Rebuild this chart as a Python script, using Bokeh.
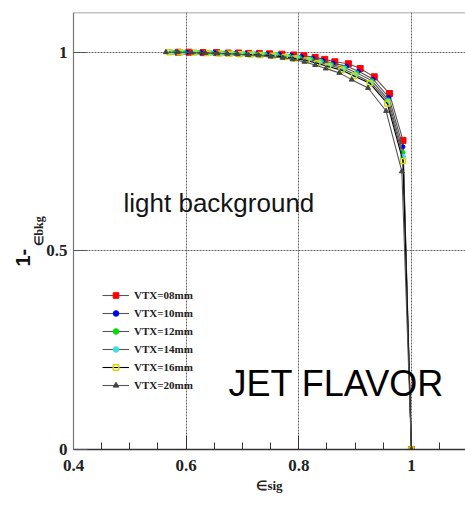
import math
from bokeh.plotting import figure
from bokeh.models import (FixedTicker, CustomJSTickFormatter, Label, Legend, LegendItem, Span, Title)
from bokeh.embed import file_html
from bokeh.resources import INLINE

# ---- data ----
names = ["VTX=08mm", "VTX=10mm", "VTX=12mm", "VTX=14mm", "VTX=16mm", "VTX=20mm"]

x08 = [0.586, 0.605, 0.630, 0.654, 0.675, 0.693, 0.711, 0.730, 0.748, 0.770, 0.791, 0.809, 0.829, 0.846, 0.864, 0.888, 0.909, 0.934, 0.961, 0.985, 1.0]
y08 = [1.000, 1.000, 0.999, 0.999, 0.998, 0.998, 0.997, 0.997, 0.996, 0.995, 0.993, 0.991, 0.987, 0.982, 0.976, 0.971, 0.959, 0.938, 0.896, 0.778, 0.0]
x10 = [0.582, 0.601, 0.626, 0.650, 0.671, 0.689, 0.707, 0.726, 0.744, 0.766, 0.787, 0.805, 0.825, 0.843, 0.861, 0.885, 0.906, 0.932, 0.960, 0.985, 1.0]
y10 = [1.000, 1.000, 0.999, 0.999, 0.998, 0.998, 0.997, 0.996, 0.995, 0.994, 0.992, 0.989, 0.985, 0.979, 0.972, 0.965, 0.952, 0.932, 0.886, 0.762, 0.0]
x12 = [0.578, 0.597, 0.622, 0.646, 0.667, 0.685, 0.703, 0.722, 0.740, 0.762, 0.783, 0.801, 0.822, 0.840, 0.858, 0.882, 0.903, 0.930, 0.959, 0.985, 1.0]
y12 = [1.000, 1.000, 0.999, 0.998, 0.998, 0.997, 0.996, 0.996, 0.995, 0.993, 0.990, 0.987, 0.983, 0.977, 0.969, 0.961, 0.948, 0.928, 0.880, 0.748, 0.0]
x14 = [0.574, 0.593, 0.618, 0.642, 0.663, 0.681, 0.699, 0.718, 0.736, 0.758, 0.779, 0.797, 0.818, 0.837, 0.855, 0.879, 0.900, 0.928, 0.958, 0.985, 1.0]
y14 = [1.000, 1.000, 0.999, 0.998, 0.997, 0.997, 0.996, 0.995, 0.994, 0.992, 0.989, 0.986, 0.981, 0.975, 0.967, 0.958, 0.944, 0.924, 0.876, 0.737, 0.0]
x16 = [0.570, 0.589, 0.614, 0.638, 0.659, 0.677, 0.695, 0.714, 0.732, 0.754, 0.775, 0.793, 0.814, 0.833, 0.852, 0.876, 0.898, 0.926, 0.957, 0.985, 1.0]
y16 = [1.000, 1.000, 0.999, 0.998, 0.997, 0.996, 0.995, 0.994, 0.993, 0.991, 0.988, 0.984, 0.979, 0.972, 0.964, 0.955, 0.940, 0.922, 0.871, 0.726, 0.0]
x20 = [0.564, 0.585, 0.610, 0.634, 0.655, 0.673, 0.691, 0.710, 0.728, 0.750, 0.771, 0.789, 0.810, 0.829, 0.848, 0.872, 0.894, 0.923, 0.955, 0.983, 1.0]
y20 = [1.000, 1.000, 0.999, 0.998, 0.997, 0.996, 0.995, 0.993, 0.992, 0.989, 0.986, 0.982, 0.976, 0.968, 0.959, 0.948, 0.931, 0.910, 0.852, 0.700, 0.0]

x_ticks = [0.4, 0.6, 0.8, 1.0]
y_ticks = [0.0, 0.5, 1.0]

series = [
    (names[0], x08, y08, dict(marker="square", size=6, fill_color="#ff0000", line_color="#ff0000"), "#555555"),
    (names[1], x10, y10, dict(marker="circle", size=4, fill_color="#0000ff", line_color="#0000ff"), "#555555"),
    (names[2], x12, y12, dict(marker="circle", size=4, fill_color="#00e000", line_color="#00e000"), "#555555"),
    (names[3], x14, y14, dict(marker="circle", size=5, fill_color="#40e0e0", line_color="#40e0e0"), "#555555"),
    (names[4], x16, y16, dict(marker="square", size=5, fill_color=None, line_color="#d8d800", line_width=1.5), "#000000"),
    (names[5], x20, y20, dict(marker="triangle", size=5, fill_color="#444444", line_color="#444444"), "#555555"),
]

p = figure(width=465, height=507, output_backend="svg", toolbar_location=None,
           x_range=(0.4, 1.096), y_range=(0.0, 1.1),
           min_border_left=73, min_border_right=0, min_border_top=12, min_border_bottom=58)
p.outline_line_color = None
p.background_fill_color = "white"

items = []
for name, xs, ys, mk, lc in series:
    r1 = p.line(xs, ys, line_color=lc, line_width=1.1)
    r2 = p.scatter(xs, ys, **mk)
    items.append(LegendItem(label=name, renderers=[r1, r2]))

# top border
p.add_layout(Span(location=1.1, dimension="width", line_color="#888888", line_width=1.5))

fmt = CustomJSTickFormatter(code="return Number(tick.toFixed(2)).toString();")

xa = p.xaxis[0]
xa.ticker = FixedTicker(ticks=x_ticks, minor_ticks=[0.45, 0.5, 0.55, 0.65, 0.7, 0.75, 0.85, 0.9, 0.95, 1.05])
xa.formatter = fmt
xa.major_tick_in = 14
xa.major_tick_out = 0
xa.minor_tick_in = 7
xa.minor_tick_out = 0
xa.axis_line_color = "#333333"
xa.axis_line_width = 1.5
xa.major_tick_line_color = "#333333"
xa.minor_tick_line_color = "#333333"
xa.major_label_text_font = "Liberation Serif"
xa.major_label_text_font_style = "bold"
xa.major_label_text_font_size = "17px"
xa.major_label_text_color = "#222222"
xa.major_label_standoff = 10
xa.axis_label = "\u2208sig"
xa.axis_label_text_font = "Liberation Serif"
xa.axis_label_text_font_style = "bold"
xa.axis_label_text_font_size = "13px"
xa.axis_label_text_color = "#222222"
xa.axis_label_standoff = 4

ya = p.yaxis[0]
ya.ticker = FixedTicker(ticks=y_ticks)
ya.formatter = fmt
ya.major_tick_in = 14
ya.major_tick_out = 0
ya.minor_tick_line_color = None
ya.axis_line_color = "#777777"
ya.axis_line_width = 1.2
ya.major_tick_line_color = "#555555"
ya.major_label_text_font = "Liberation Serif"
ya.major_label_text_font_style = "bold"
ya.major_label_text_font_size = "17px"
ya.major_label_text_color = "#222222"
ya.major_label_standoff = 6
ya.axis_label = "\u2208bkg"
ya.axis_label_text_font = "Liberation Serif"
ya.axis_label_text_font_style = "bold"
ya.axis_label_text_font_size = "12px"
ya.axis_label_text_color = "#222222"
ya.axis_label_standoff = -3

p.add_layout(Title(text="1-", text_font="Liberation Sans", text_font_style="bold",
                   text_font_size="20px", text_color="#111111", align="left",
                   offset=183, standoff=0), "left")

p.xgrid.ticker = FixedTicker(ticks=[0.6, 0.8, 1.0])
p.ygrid.ticker = FixedTicker(ticks=[0.5, 1.0])
for g in (p.xgrid[0], p.ygrid[0]):
    g.grid_line_color = "#666666"
    g.grid_line_dash = "2 1"
    g.grid_line_width = 1

# legend
leg = Legend(items=items, location=(29, 57), background_fill_alpha=0, border_line_color=None,
             padding=0, margin=0, spacing=4, glyph_width=27, glyph_height=14, label_height=14,
             label_standoff=5, label_text_font="Liberation Serif", label_text_font_style="bold",
             label_text_font_size="11px", label_text_color="#222222")
p.add_layout(leg)

# texts inside the frame (screen units: x from frame left, y up from frame bottom)
def lab(text, sx, sy, font, size, color):
    p.add_layout(Label(x=sx - 73, y=449 - sy, x_units="screen", y_units="screen", text=text,
                       text_font=font, text_font_size=size, text_color=color))

lab("light background", 123, 217, "Liberation Sans", "26px", "#151515")
lab("JET FLAVOR", 228, 403, "Liberation Sans", "36px", "#000000")

open("out.html", "w").write(file_html(p, INLINE))
